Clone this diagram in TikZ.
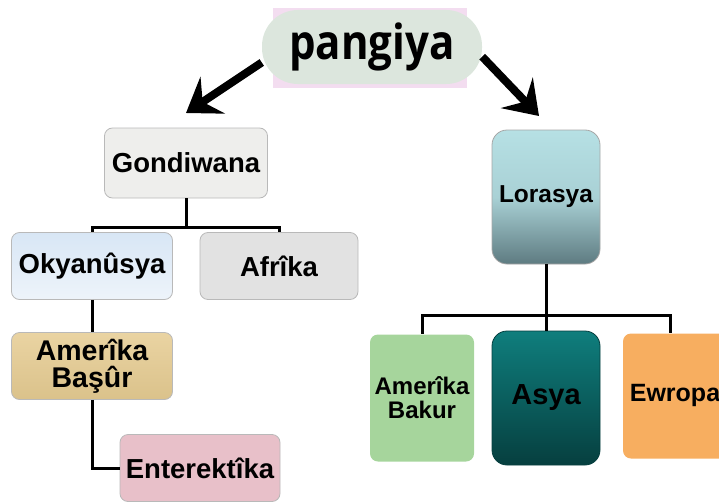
\documentclass[tikz,border=0pt]{standalone}
\usepackage{fontspec}
\usepackage{graphicx}
\setmainfont{Liberation Sans}
\newfontfamily\titlefont{Open Sans}
\usepackage{tikz}
\usetikzlibrary{positioning,arrows.meta,calc}

\definecolor{pillgreen}{HTML}{DCE6DD}
\definecolor{pillpink}{HTML}{F3DDF0}
\definecolor{gondgray}{HTML}{EEEEEC}
\definecolor{afrgray}{HTML}{E2E2E2}
\definecolor{okyblue}{HTML}{D8E6F5}
\definecolor{ambtan}{HTML}{E6CC92}
\definecolor{entpink}{HTML}{E8C0C9}
\definecolor{loratop}{HTML}{B6E0E4}
\definecolor{lorabot}{HTML}{5E7B81}
\definecolor{asyatop}{HTML}{0F7E7D}
\definecolor{asyabot}{HTML}{063F3F}
\definecolor{abkgreen}{HTML}{A6D59C}
\definecolor{ewrorange}{HTML}{F7AE60}

\begin{document}
\begin{tikzpicture}[
  x=1pt, y=-1pt,
  box/.style={rounded corners=8pt, align=center, inner sep=0pt,
              font=\bfseries\fontsize{27.5}{27.5}\selectfont},
  flat/.style={box, draw=gray!55, line width=0.8pt},
  tall/.style={box, rounded corners=15pt, minimum width=108pt, minimum height=134pt},
  conn/.style={draw, line width=3pt},
  bigarr/.style={draw, line width=8pt,
                 -{Stealth[length=32pt, width=44pt, inset=12pt]}},
]
\useasboundingbox (0,0) rectangle (719,503);

% title
\node[fill=pillpink, minimum width=194pt, minimum height=80pt] (pinkbg) at (370,48) {};
\node[fill=pillgreen, rounded corners=36pt, minimum width=220pt, minimum height=74pt,
      font=\titlefont\bfseries\fontsize{42}{42}\selectfont] (pang) at (372,47)
      {\raisebox{-2pt}{\scalebox{1}[1.15]{pangiya}}};

% Gondiwana branch
\node[flat, fill=gondgray, minimum width=163pt, minimum height=70pt] (gond) at (186,163) {Gondiwana};
\node[flat, top color=okyblue, bottom color=okyblue!45!white,
      minimum width=161pt, minimum height=67pt] (okya) at (92,266) {Okyanûsya};
\node[flat, fill=afrgray, minimum width=158pt, minimum height=67pt] (afr) at (279,266) {Afrîka};
\node[flat, top color=ambtan!85!white, bottom color=ambtan!95!black,
      minimum width=161pt, minimum height=67pt,
      font=\bfseries\fontsize{28.5}{27}\selectfont] (amb) at (92,366) {Amerîka\\Başûr};
\node[flat, fill=entpink, minimum width=160pt, minimum height=67pt] (ente) at (200,468) {Enterektîka};

% Lorasya branch
\node[tall, draw=gray!70, line width=0.8pt, top color=loratop, bottom color=lorabot,
      middle color=loratop!85!lorabot, font=\bfseries\fontsize{24.5}{24.5}\selectfont] (lora) at (546,197)
      {\raisebox{4pt}{Lorasya}};
\node[box, fill=abkgreen, minimum width=104pt, minimum height=127pt,
      font=\bfseries\fontsize{24}{24}\selectfont] (abk) at (422,398) {Amerîka\\Bakur};
\node[tall, draw=asyabot, line width=0.8pt, top color=asyatop, bottom color=asyabot,
      font=\bfseries\fontsize{29}{29}\selectfont] (asya) at (546,398) {\raisebox{4pt}{Asya}};
\node[box, fill=ewrorange, minimum width=104pt, minimum height=125pt,
      font=\bfseries\fontsize{25}{25}\selectfont] (ewr) at (675,396) {\raisebox{6pt}{Ewropa}};

% arrows from the title
\coordinate (ltip) at (186,113);
\coordinate (rtip) at (539,116);
\draw[bigarr] (pang.188) -- (ltip);
\draw[bigarr] (pang.-5) -- (rtip);

% tree lines
\draw[conn] (gond.south) -- ++(0,29) -| (okya.north);
\draw[conn] (gond.south) -- ++(0,29) -| (afr.north);
\draw[conn] (okya.south) -- (amb.north);
\draw[conn] (amb.south) |- (ente.west);
\draw[conn] (lora.south) -- ++(0,51) -| (abk.north);
\draw[conn] (lora.south) -- ++(0,51) -| (asya.north);
\draw[conn] (lora.south) -- ++(0,51) -| ([xshift=-5pt]ewr.north);
\end{tikzpicture}
\end{document}
